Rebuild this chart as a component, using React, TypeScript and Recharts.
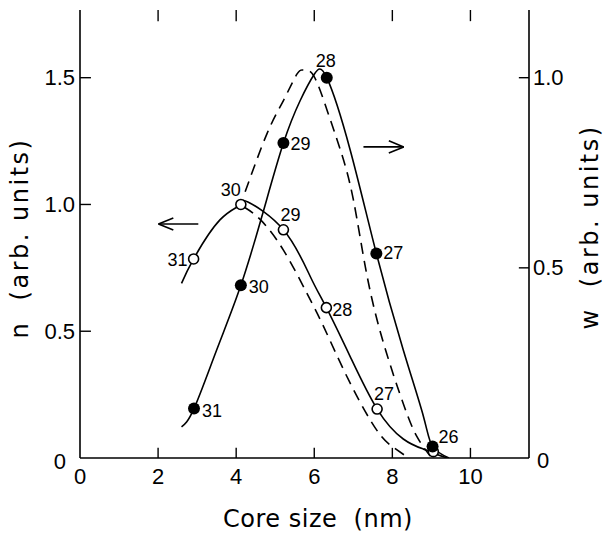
import React from 'react';
import { ComposedChart, Line, Scatter, XAxis, YAxis, ReferenceLine, Label } from 'recharts';

// ---- axes ----
const xDomain: [number, number] = [0, 11.5];
const nDomain: [number, number] = [0, 1.767];
const wDomain: [number, number] = [0, 1.178];
const xTicks = [0, 2, 4, 6, 8, 10];
const nTicks = [0, 0.5, 1.0, 1.5];
const nTickLabels = ['0', '0.5', '1.0', '1.5'];
const wTicks = [0, 0.5, 1.0];
const wTickLabels = ['0', '0.5', '1.0'];

// ---- w (filled circles, right axis) ----
const wPointX = [2.92, 4.12, 5.21, 6.32, 7.59, 9.03];
const wPointY = [0.13, 0.454, 0.828, 1.0, 0.538, 0.03];
const wPointLabels = ['31', '30', '29', '28', '27', '26'];

// ---- n (open circles, left axis) ----
const nPointX = [2.91, 4.12, 5.21, 6.31, 7.61, 9.05];
const nPointY = [0.785, 1.0, 0.9, 0.593, 0.193, 0.025];
const nPointLabels = ['31', '30', '29', '28', '27', ''];

// ---- solid curve through w points ----
const wSolidX = [2.6, 2.92, 3.5, 4.12, 4.7, 5.21, 5.64, 6.0, 6.32, 6.92, 7.59, 8.28, 8.8, 9.03, 9.45];
const wSolidY = [0.082, 0.13, 0.284, 0.454, 0.65, 0.828, 0.94, 1.009, 1.0, 0.81, 0.538, 0.284, 0.108, 0.03, 0];

// ---- solid curve through n points ----
const nSolidX = [2.6, 2.91, 3.59, 4.12, 4.3, 5.21, 5.9, 6.31, 6.92, 7.61, 8.28, 8.8, 9.05, 9.4];
const nSolidY = [0.689, 0.785, 0.94, 1.0, 1.01, 0.9, 0.715, 0.593, 0.4, 0.193, 0.075, 0.035, 0.02, 0];

// ---- dashed w curve ----
const wDashX = [4.23, 4.79, 5.21, 5.56, 5.73, 5.98, 6.33, 6.67, 7.0, 7.35, 7.78, 8.29, 8.63, 8.97];
const wDashY = [0.7, 0.853, 0.94, 1.01, 1.02, 1.006, 0.914, 0.81, 0.68, 0.48, 0.3, 0.14, 0.056, 0.005];

// ---- dashed n curve ----
const nDashX = [4.2, 4.62, 5.21, 5.81, 6.24, 6.92, 7.6, 8.0, 8.37];
const nDashY = [0.99, 0.94, 0.82, 0.65, 0.518, 0.295, 0.11, 0.045, 0.005];

// ---- arrows (data coordinates) ----
const nArrow = { tail: 3.03, tip: 2.01, level: 0.923, headLen: 0.38, headHalf: 0.024 };
const wArrow = { tail: 7.26, tip: 8.29, level: 0.818, headLen: 0.38, headHalf: 0.016 };

// inward tick-mark lengths, in axis units
const xTickLenN = 0.04; // bottom/top ticks, in n units
const nTickLenX = 0.28; // left ticks, in x units
const wTickLenX = 0.26; // right ticks, in x units

const zip = (xs: number[], ys: number[]) => xs.map((x, i) => ({ x, y: ys[i] }));
const wPoints = wPointX.map((x, i) => ({ x, y: wPointY[i], label: wPointLabels[i] }));
const nPoints = nPointX.map((x, i) => ({ x, y: nPointY[i], label: nPointLabels[i] }));
const wSolid = zip(wSolidX, wSolidY);
const nSolid = zip(nSolidX, nSolidY);
const wDash = zip(wDashX, wDashY);
const nDash = zip(nDashX, nDashY);

// label placement styles: [dx, dy, anchor]
const wLabelPos: Record<string, [number, number, string]> = {
  '31': [8, 2, 'start'],
  '30': [8, 2, 'start'],
  '29': [7, 1, 'start'],
  '28': [-11, -17, 'start'],
  '27': [7, 0, 'start'],
  '26': [6, -10, 'start'],
};
const nLabelPos: Record<string, [number, number, string]> = {
  '31': [-6, 1, 'end'],
  '30': [0, -14, 'end'],
  '29': [-3, -15, 'start'],
  '28': [6, 2, 'start'],
  '27': [-3, -15, 'start'],
};

const FONT = '"Liberation Sans", Arial, sans-serif';
const TITLE_FONT = '"DejaVu Sans", sans-serif';
const BLACK = '#000';

const FilledDot = (props: any) => {
  const { cx, cy, payload } = props;
  const pos = wLabelPos[payload.label];
  return (
    <g>
      <circle cx={cx} cy={cy} r={6} fill={BLACK} />
      {pos && (
        <text x={cx + pos[0]} y={cy + pos[1]} textAnchor={pos[2] as any} dominantBaseline="central" fontSize={18} fontFamily={FONT} fill={BLACK}>
          {payload.label}
        </text>
      )}
    </g>
  );
};

const OpenDot = (props: any) => {
  const { cx, cy, payload } = props;
  const pos = nLabelPos[payload.label];
  return (
    <g>
      <circle cx={cx} cy={cy} r={5} fill="#fff" stroke={BLACK} strokeWidth={1.6} />
      {pos && payload.label && (
        <text x={cx + pos[0]} y={cy + pos[1]} textAnchor={pos[2] as any} dominantBaseline="central" fontSize={18} fontFamily={FONT} fill={BLACK}>
          {payload.label}
        </text>
      )}
    </g>
  );
};

const NTick = (props: any) => {
  const { x, y, payload } = props;
  const i = nTicks.indexOf(payload.value);
  const isZero = payload.value === 0;
  return (
    <text x={x + (isZero ? -9 : 0)} y={y + (isZero ? 3 : 0)} textAnchor="end" dominantBaseline="central" fontSize={22} fontFamily={FONT} fill={BLACK}>
      {nTickLabels[i]}
    </text>
  );
};

const WTick = (props: any) => {
  const { x, y, payload } = props;
  const i = wTicks.indexOf(payload.value);
  const isZero = payload.value === 0;
  return (
    <text x={x + (isZero ? 4 : 0)} y={y + (isZero ? 2 : 0)} textAnchor="start" dominantBaseline="central" fontSize={22} fontFamily={FONT} fill={BLACK}>
      {wTickLabels[i]}
    </text>
  );
};

const XTick = (props: any) => {
  const { x, y, payload } = props;
  return (
    <text x={x} y={y + 26} textAnchor="middle" fontSize={22} fontFamily={FONT} fill={BLACK}>
      {String(payload.value)}
    </text>
  );
};

const XTitle = (props: any) => {
  const vb = props.viewBox || { x: 80, y: 458, width: 449, height: 76 };
  return (
    <text x={vb.x + 238} y={vb.y + 69} textAnchor="middle" fontSize={24} fontFamily={TITLE_FONT} letterSpacing={0.5} fill={BLACK}>
      Core size{'\u00a0'}{'\u00a0'}(nm)
    </text>
  );
};

const NTitle = (props: any) => {
  const vb = props.viewBox || { x: 0, y: 10, width: 80, height: 448 };
  const cx = vb.x + 20;
  const cy = vb.y + 228;
  return (
    <text x={cx} y={cy} transform={`rotate(-90 ${cx} ${cy})`} textAnchor="middle" dominantBaseline="central" fontSize={24} fontFamily={TITLE_FONT} letterSpacing={2.5} fill={BLACK}>
      n{'\u00a0'}{'\u00a0'}(arb. units)
    </text>
  );
};

const WTitle = (props: any) => {
  const vb = props.viewBox || { x: 529, y: 10, width: 74, height: 448 };
  const cx = vb.x + 61;
  const cy = vb.y + 217;
  return (
    <text x={cx} y={cy} transform={`rotate(-90 ${cx} ${cy})`} textAnchor="middle" dominantBaseline="central" fontSize={24} fontFamily={TITLE_FONT} letterSpacing={2.5} fill={BLACK}>
      w{'\u00a0'}{'\u00a0'}(arb. units)
    </text>
  );
};

const seg = (key: string, yAxisId: string, x1: number, y1: number, x2: number, y2: number, w = 1.6) => (
  <ReferenceLine
    key={key}
    xAxisId="b"
    yAxisId={yAxisId}
    stroke={BLACK}
    strokeWidth={w}
    ifOverflow="visible"
    segment={[{ x: x1, y: y1 }, { x: x2, y: y2 }]}
  />
);

const arrowLines = (a: typeof nArrow, axisId: string) => {
  const dir = a.tip < a.tail ? 1 : -1;
  const back = a.tip + dir * a.headLen;
  return [
    seg(axisId + 's', axisId, a.tail, a.level, a.tip, a.level),
    seg(axisId + 'h1', axisId, back, a.level + a.headHalf, a.tip, a.level),
    seg(axisId + 'h2', axisId, back, a.level - a.headHalf, a.tip, a.level),
  ];
};

const tickMarks = () => {
  const out: any[] = [];
  xTicks.filter((t) => t > 0).forEach((t) => {
    out.push(seg('bt' + t, 'n', t, nDomain[0], t, nDomain[0] + xTickLenN, 1.4));
    out.push(seg('tt' + t, 'n', t, nDomain[1], t, nDomain[1] - xTickLenN * 1.1, 1.4));
  });
  nTicks.filter((t) => t > 0).forEach((t) => {
    out.push(seg('lt' + t, 'n', xDomain[0], t, xDomain[0] + nTickLenX, t, 1.4));
  });
  wTicks.filter((t) => t > 0).forEach((t) => {
    out.push(seg('rt' + t, 'w', xDomain[1], t, xDomain[1] - wTickLenX, t, 1.4));
  });
  return out;
};

export default function App() {
  return (
    <div style={{ position: 'absolute', left: 0, top: 0, width: 603, height: 534, background: '#fff' }}>
      <ComposedChart width={603} height={534} margin={{ top: 10, right: 0, bottom: 0, left: 0 }}>
        <XAxis
          xAxisId="b"
          dataKey="x"
          type="number"
          domain={xDomain}
          allowDataOverflow
          ticks={xTicks}
          interval={0}
          orientation="bottom"
          height={76}
          tickSize={0}
          tickMargin={0}
          tick={<XTick />}
          tickLine={false}
          axisLine={{ stroke: BLACK, strokeWidth: 1.6 }}
        >
          <Label content={<XTitle />} />
        </XAxis>
        <XAxis
          xAxisId="t"
          dataKey="x"
          type="number"
          domain={xDomain}
          allowDataOverflow
          orientation="top"
          height={0}
          tick={false}
          tickLine={false}
          axisLine={{ stroke: BLACK, strokeWidth: 1.6 }}
        />
        <YAxis
          yAxisId="n"
          dataKey="y"
          type="number"
          domain={nDomain}
          allowDataOverflow
          ticks={nTicks}
          interval={0}
          orientation="left"
          width={80}
          tickSize={0}
          tickMargin={5}
          tick={<NTick />}
          tickLine={false}
          axisLine={{ stroke: BLACK, strokeWidth: 1.6 }}
        >
          <Label content={<NTitle />} />
        </YAxis>
        <YAxis
          yAxisId="w"
          dataKey="y"
          type="number"
          domain={wDomain}
          allowDataOverflow
          ticks={wTicks}
          interval={0}
          orientation="right"
          width={74}
          tickSize={0}
          tickMargin={4}
          tick={<WTick />}
          tickLine={false}
          axisLine={{ stroke: BLACK, strokeWidth: 1.6 }}
        >
          <Label content={<WTitle />} />
        </YAxis>

        {tickMarks()}

        <Line data={wDash} dataKey="y" xAxisId="b" yAxisId="w" type="natural" dot={false} stroke={BLACK} strokeWidth={1.6} strokeDasharray="11 7" isAnimationActive={false} />
        <Line data={nDash} dataKey="y" xAxisId="b" yAxisId="n" type="natural" dot={false} stroke={BLACK} strokeWidth={1.6} strokeDasharray="11 7" isAnimationActive={false} />
        <Line data={wSolid} dataKey="y" xAxisId="b" yAxisId="w" type="natural" dot={false} stroke={BLACK} strokeWidth={1.6} isAnimationActive={false} />
        <Line data={nSolid} dataKey="y" xAxisId="b" yAxisId="n" type="natural" dot={false} stroke={BLACK} strokeWidth={1.6} isAnimationActive={false} />

        {arrowLines(nArrow, 'n')}
        {arrowLines(wArrow, 'w')}

        <Scatter data={nPoints} dataKey="y" xAxisId="b" yAxisId="n" shape={<OpenDot />} isAnimationActive={false} />
        <Scatter data={wPoints} dataKey="y" xAxisId="b" yAxisId="w" shape={<FilledDot />} isAnimationActive={false} />
      </ComposedChart>
    </div>
  );
}
